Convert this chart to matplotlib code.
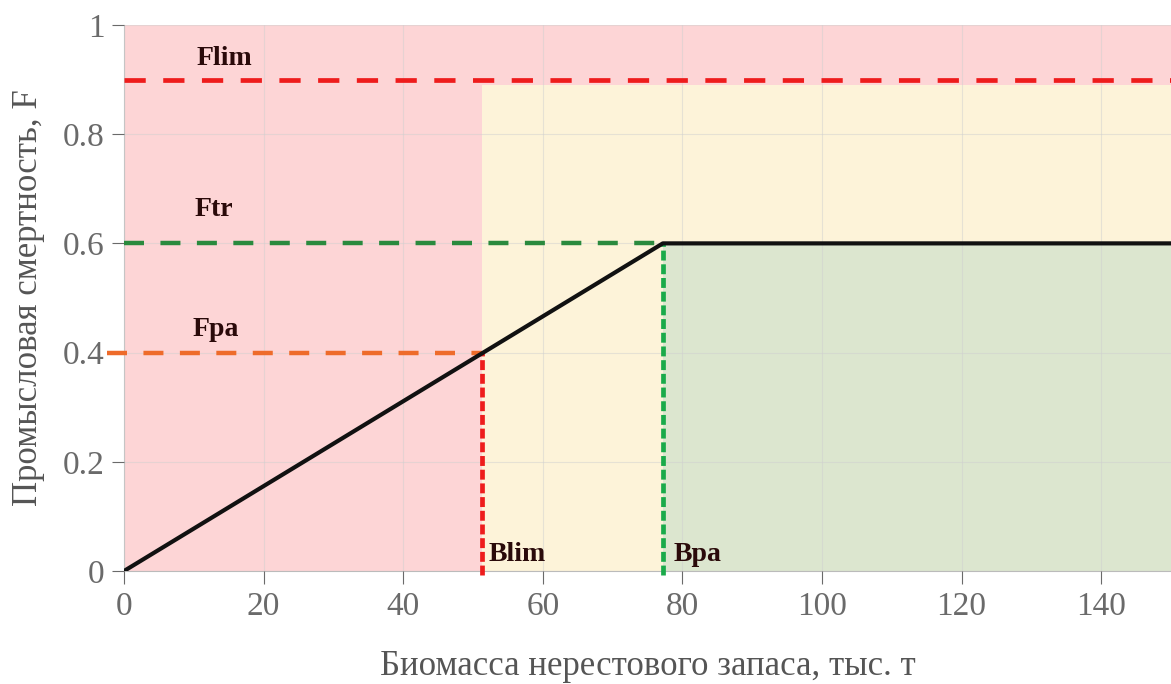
import matplotlib.pyplot as plt

# reference points of the harvest control rule
b_lim = 51.3
b_pa = 77.2
f_lim = 0.9
f_tr = 0.6
f_pa = 0.4
x_max = 150

# control rule line: origin -> (Bpa, Ftr) -> flat to the right edge
rule_x = [0, b_pa, x_max]
rule_y = [0, f_tr, f_tr]

x_ticks = [0, 20, 40, 60, 80, 100, 120, 140]
y_ticks = [0, 0.2, 0.4, 0.6, 0.8, 1]
y_tick_labels = ["0", "0.2", "0.4", "0.6", "0.8", "1"]

plt.rcParams['font.family'] = ['Liberation Serif', 'DejaVu Serif']

fig = plt.figure(figsize=(11.71, 6.84), dpi=100)
ax = fig.add_axes([0.1059, 0.1652, 0.8941, 0.7983])

# zones
ax.axvspan(0, x_max, ymin=0, ymax=1, color='#fdd5d6', lw=0, zorder=0)
ax.fill_between([b_lim, x_max], 0, f_lim - 0.01, color='#fdf3d9', lw=0, zorder=0.5)
ax.fill_between([b_pa, x_max], 0, f_tr, color='#dce6cf', lw=0, zorder=0.6)

ax.grid(True, color='#d0d0d0', lw=0.8, alpha=0.5, zorder=1)
ax.set_axisbelow(False)

# reference lines
ax.plot([0, x_max], [f_lim, f_lim], color='#ee1c1c', lw=3.4, dashes=(4.5, 3.7), zorder=3)
ax.plot([0, b_pa], [f_tr, f_tr], color='#2a8a3e', lw=3.2, dashes=(4.5, 3.7), zorder=3)
ax.plot([-2.5, b_lim], [f_pa, f_pa], color='#ee6b2a', lw=3.2, dashes=(4.5, 3.7), zorder=3, clip_on=False)
ax.plot([b_lim, b_lim], [-0.008, f_pa], color='#ee1c1c', lw=3.4, dashes=(2.1, 0.8), zorder=3, clip_on=False)
ax.plot([b_pa, b_pa], [-0.008, f_tr], color='#1aaa4a', lw=3.4, dashes=(2.1, 0.8), zorder=3, clip_on=False)

ax.plot(rule_x, rule_y, color='#111111', lw=3.0, zorder=4, solid_capstyle='butt')

# labels
lab = dict(fontsize=20, fontweight='bold', color='#2a0a0a', zorder=5)
ax.text(14.4, 0.938, 'Flim', ha='center', va='center', **lab)
ax.text(12.9, 0.662, 'Ftr', ha='center', va='center', **lab)
ax.text(13.2, 0.442, 'Fpa', ha='center', va='center', **lab)
ax.text(b_lim + 0.9, 0.031, 'Blim', ha='left', va='center', **lab)
ax.text(b_pa + 1.6, 0.031, 'Bpa', ha='left', va='center', **lab)

ax.set_xlim(0, x_max)
ax.set_ylim(0, 1)
ax.set_xticks(x_ticks)
ax.set_yticks(y_ticks)
ax.set_yticklabels(y_tick_labels)
ax.tick_params(axis='both', labelsize=24, colors='#6a6a6a', length=9, width=0.8, pad=5)
ax.tick_params(axis='x', pad=6)

for side in ['top', 'right']:
    ax.spines[side].set_visible(False)
for side in ['left', 'bottom']:
    ax.spines[side].set_color('#bbbbbb')
    ax.spines[side].set_linewidth(0.8)

ax.set_xlabel('Биомасса нерестового запаса, тыс. т', fontsize=25, color='#555555', labelpad=20)
ax.set_ylabel('Промысловая смертность, F', fontsize=25, color='#555555', labelpad=13)

fig.savefig('out.png', dpi=100)
